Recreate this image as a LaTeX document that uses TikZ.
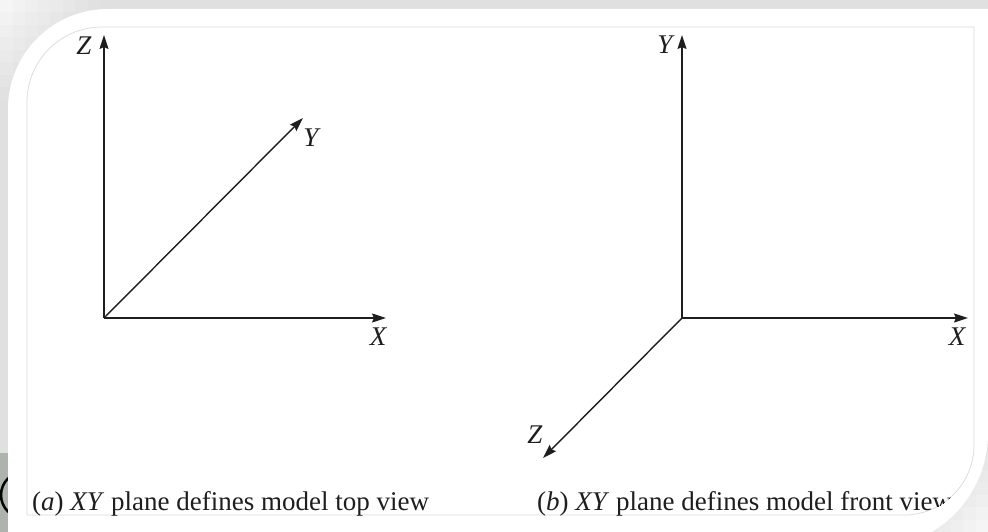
\documentclass[tikz,border=0pt]{standalone}
\usepackage{fontspec}
\setmainfont{Liberation Serif}
\usepackage{tikz}
\usetikzlibrary{positioning,arrows.meta,calc}
\definecolor{bggray}{HTML}{E0E0E0}
\definecolor{rimgray}{HTML}{DADADA}
\definecolor{inkblack}{HTML}{1E1E1E}
\definecolor{icongray}{HTML}{AEB3AE}

\tikzset{
  axis/.style={inkblack, line width=1.4pt, -{Stealth[length=14pt,width=9pt,inset=2pt]}},
  lbl/.style={inner sep=0pt, font=\fontsize{27}{32}\selectfont\itshape, text=inkblack},
  capt/.style={inner sep=0pt, anchor=base west, font=\fontsize{27}{32}\selectfont, text=inkblack}
}

\begin{document}
\begin{tikzpicture}[x=1pt,y=-1pt]
    \useasboundingbox (0,0) rectangle (988,532);
    % backdrop with the faded squares
    \fill[bggray] (0,0) rectangle (988,532);
    \foreach \i in {0,...,7}
      \foreach \j in {0,...,9} {
        \pgfmathsetmacro\shade{min(24,8+2.2*(\i+\j))}
        \fill[gray!\shade] (12.5*\i,12.5*\j) rectangle ++(12.5,12.5);
        \fill[gray!\shade] (988-12.5*\i,532-12.5*\j) rectangle ++(-12.5,-12.5);
      }
    \begin{scope}
      \clip (0,453) rectangle (8,532);
      \fill[icongray] (0,453) rectangle (8,532);
      \draw[black, line width=2.5pt] (24,495) circle[radius=23];
    \end{scope}
    % white panel and inner frame
    \fill[white] (8,548) -- (8,109) arc[start angle=180, end angle=270, radius=100]
      -- (988,9) -- (988,433) arc[start angle=0, end angle=90, radius=115] -- cycle;
    \draw[rimgray, line width=0.7pt] (27,515) -- (27,102) arc[start angle=180, end angle=270, radius=75]
      -- (974,27) -- (974,445) arc[start angle=0, end angle=90, radius=70] -- cycle;

    % (a) top view
    \coordinate (oa) at (104,318);
    \coordinate (za) at (104,35);
    \coordinate (ya) at (303,118);
    \coordinate (xa) at (386,318);
    \draw[axis] (oa) -- (za);
    \draw[axis] (oa) -- (ya);
    \draw[axis] (oa) -- (xa);
    \node[lbl] (za lbl) at (84,46) {Z};
    \node[lbl] (ya lbl) at (311,138) {Y};
    \node[lbl] (xa lbl) at (378,337) {X};

    % (b) front view
    \coordinate (ob) at (682,318);
    \coordinate (yb) at (682,35);
    \coordinate (xb) at (968,318);
    \coordinate (zb) at (543,458);
    \draw[axis] (ob) -- (yb);
    \draw[axis] (ob) -- (xb);
    \draw[axis] (ob) -- (zb);
    \node[lbl] (yb lbl) at (665,45) {Y};
    \node[lbl] (xb lbl) at (957,337) {X};
    \node[lbl] (zb lbl) at (535,435) {Z};

    % captions
    \node[capt] (capa) at (32,510) {(\textit{a}) \textit{XY} plane defines model top view};
    \begin{scope}
      \clip (27,515) -- (27,27) -- (974,27) -- (974,445) arc[start angle=0, end angle=90, radius=70] -- cycle;
      \node[capt] (capb) at (537,510) {(\textit{b}) \textit{XY} plane defines model front view};
    \end{scope}
  \end{tikzpicture}
\end{document}
